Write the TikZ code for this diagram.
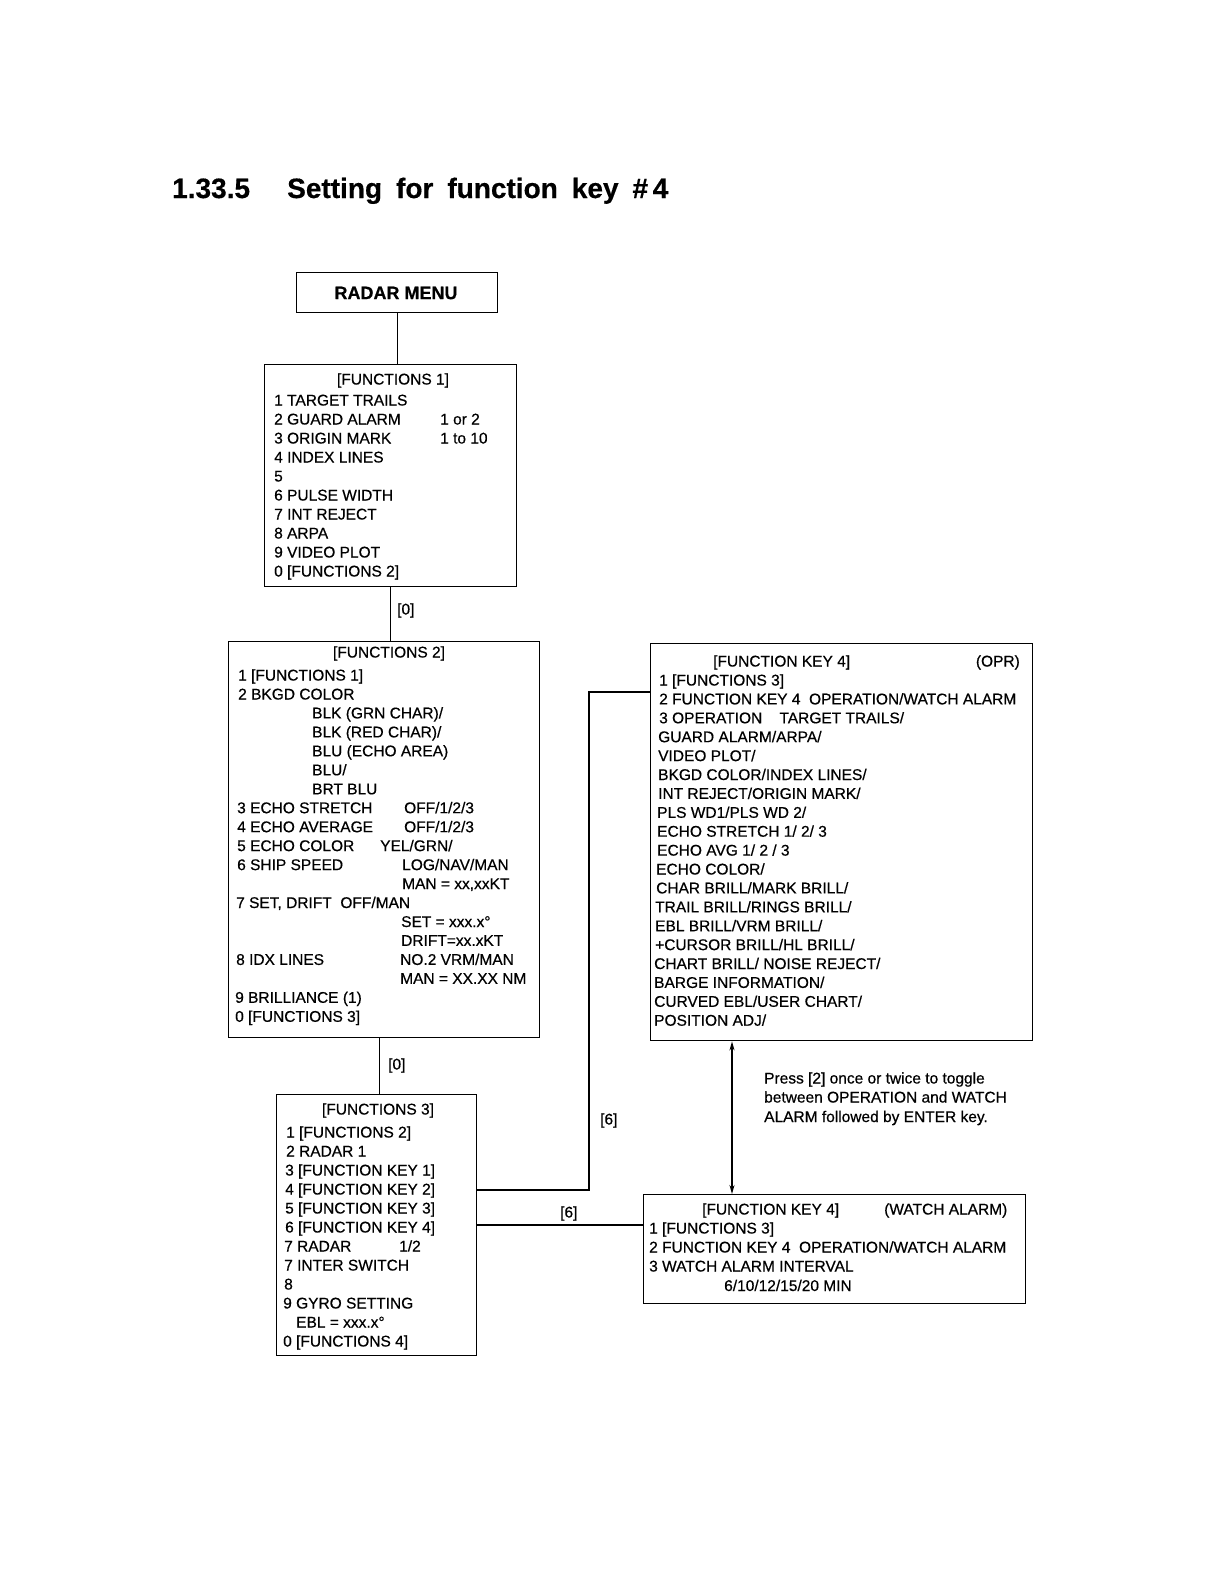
\documentclass[tikz,border=0pt]{standalone}
\usepackage{fontspec}
\setmainfont{Liberation Sans}[FakeBold=0.5]
\newfontfamily\reg{Liberation Sans}[FakeBold=0.5]
\usetikzlibrary{arrows.meta}
\tikzset{
  box/.style={draw, line width=1.4pt, rectangle, inner sep=0pt, anchor=north west},
  t/.style={anchor=base west, inner sep=0pt, font=\fontsize{15.5}{18}\selectfont},
  tc/.style={anchor=base, inner sep=0pt, font=\fontsize{15.5}{18}\selectfont},
  conn/.style={line width=1.4pt},
  ttl/.style={anchor=base west, inner sep=0pt, font=\bfseries\fontsize{28}{32}\selectfont},
}
\newcommand{\wsp}{\hspace{14pt}}
\begin{document}
\begin{tikzpicture}[x=1pt,y=-1pt]
\useasboundingbox (0,0) rectangle (1224,1584);
% title
\node[ttl] (tnum) at (172,198) {1.33.5};
\node[ttl] (ttext) at (287,198) {Setting\wsp for\wsp function\wsp key\wsp\#\,4};
% boxes
\node[box, minimum width=201pt, minimum height=40pt] (rm) at (296,272) {};
\node[anchor=center, inner sep=0pt, font=\bfseries\fontsize{18}{20}\selectfont] (rmt) at (396,293) {RADAR MENU};
\node[box, minimum width=252pt, minimum height=222pt] (f1) at (264,364) {};
\node[box, minimum width=311pt, minimum height=396pt] (f2) at (228,641) {};
\node[box, minimum width=200pt, minimum height=261pt] (f3) at (276,1094) {};
\node[box, minimum width=382pt, minimum height=397pt] (k4) at (650,643) {};
\node[box, minimum width=382pt, minimum height=109pt] (wa) at (643,1194) {};
% connectors
\draw[conn] (rm.south) -- (rm.south |- f1.north);
\draw[conn] (f1.south) -- (f1.south |- f2.north);
\draw[conn] (f3.north |- f2.south) ++(3,0) coordinate (c23) -- (c23 |- f3.north);
\coordinate (u1) at (589,1190);
\coordinate (u2) at (589,692);
\draw[conn] (f3.east |- u1) -- (u1) -- (u2) -- (u2 -| k4.west);
\coordinate (l1) at (560,1225);
\draw[conn] (f3.east |- l1) -- (l1 -| wa.west);
\coordinate (da) at (732,0);
\draw[conn, {Stealth[length=9pt,width=5pt]}-{Stealth[length=9pt,width=5pt]}] (da |- k4.south) -- (da |- wa.north);
% connector labels
\node[t] (lab0a) at (397,614.5) {[0]};
\node[t] (lab0b) at (388,1069.5) {[0]};
\node[t] (lab6a) at (600,1124.5) {[6]};
\node[t] (lab6b) at (560,1217.5) {[6]};
% FUNCTIONS 1
\node[tc] (f1t) at (393,384.5) {[FUNCTIONS 1]};
\node[t] (f1a) at (274,405.5) {1 TARGET TRAILS};
\node[t] (f1b) at (274,424.5) {2 GUARD ALARM};
\node[t] (f1bb) at (440,424.5) {1 or 2};
\node[t] (f1c) at (274,443.5) {3 ORIGIN MARK};
\node[t] (f1cc) at (440,443.5) {1 to 10};
\node[t] (f1d) at (274,462.5) {4 INDEX LINES};
\node[t] (f1e) at (274,481.5) {5};
\node[t] (f1f) at (274,500.5) {6 PULSE WIDTH};
\node[t] (f1g) at (274,519.5) {7 INT REJECT};
\node[t] (f1h) at (274,538.5) {8 ARPA};
\node[t] (f1i) at (274,557.5) {9 VIDEO PLOT};
\node[t] (f1j) at (274,576.5) {0 [FUNCTIONS 2]};
% FUNCTIONS 2
\node[tc] (f2t) at (389,657.5) {[FUNCTIONS 2]};
\node[t] (f2a) at (238,680.5) {1 [FUNCTIONS 1]};
\node[t] (f2b) at (238,699.5) {2 BKGD COLOR};
\node[t] (f2c) at (312,718.4) {BLK (GRN CHAR)/};
\node[t] (f2d) at (312,737.4) {BLK (RED CHAR)/};
\node[t] (f2e) at (312,756.3) {BLU (ECHO AREA)};
\node[t] (f2f) at (312,775.3) {BLU/};
\node[t] (f2g) at (312,794.3) {BRT BLU};
\node[t] (f2h) at (237,813.2) {3 ECHO STRETCH};
\node[t] (f2hh) at (404,813.2) {OFF/1/2/3};
\node[t] (f2i) at (237,832.2) {4 ECHO AVERAGE};
\node[t] (f2ii) at (404,832.2) {OFF/1/2/3};
\node[t] (f2j) at (237,851.1) {5 ECHO COLOR};
\node[t] (f2jj) at (380,851.1) {YEL/GRN/};
\node[t] (f2k) at (237,870.1) {6 SHIP SPEED};
\node[t] (f2kk) at (402,870.1) {LOG/NAV/MAN};
\node[t] (f2l) at (402,889.0) {MAN = xx,xxKT};
\node[t] (f2m) at (236,908.0) {7 SET, DRIFT\ \ OFF/MAN};
\node[t] (f2n) at (401,927.0) {SET = xxx.x°};
\node[t] (f2o) at (401,945.9) {DRIFT=xx.xKT};
\node[t] (f2p) at (236,964.9) {8 IDX LINES};
\node[t] (f2pp) at (400,964.9) {NO.2 VRM/MAN};
\node[t] (f2q) at (400,983.8) {MAN = XX.XX NM};
\node[t] (f2r) at (235,1002.8) {9 BRILLIANCE (1)};
\node[t] (f2s) at (235,1021.8) {0 [FUNCTIONS 3]};
% FUNCTIONS 3
\node[tc] (f3t) at (378,1114.5) {[FUNCTIONS 3]};
\node[t] (f3a) at (286,1137.5) {1 [FUNCTIONS 2]};
\node[t] (f3b) at (286,1156.5) {2 RADAR 1};
\node[t] (f3c) at (285,1175.5) {3 [FUNCTION KEY 1]};
\node[t] (f3d) at (285,1194.5) {4 [FUNCTION KEY 2]};
\node[t] (f3e) at (285,1213.5) {5 [FUNCTION KEY 3]};
\node[t] (f3f) at (285,1232.5) {6 [FUNCTION KEY 4]};
\node[t] (f3g) at (284,1251.5) {7 RADAR};
\node[t] (f3gg) at (399,1251.5) {1/2};
\node[t] (f3h) at (284,1270.5) {7 INTER SWITCH};
\node[t] (f3i) at (284,1289.5) {8};
\node[t] (f3j) at (283,1308.5) {9 GYRO SETTING};
\node[t] (f3k) at (296,1327.5) {EBL = xxx.x°};
\node[t] (f3l) at (283,1346.5) {0 [FUNCTIONS 4]};
% FUNCTION KEY 4 (OPR)
\node[t] (k4t) at (713,666.5) {[FUNCTION KEY 4]};
\node[anchor=base east, inner sep=0pt, font=\fontsize{15.5}{18}\selectfont] (k4o) at (1020,666.5) {(OPR)};
\node[t] (k4a) at (659,685.5) {1 [FUNCTIONS 3]};
\node[t] (k4b) at (659,704.4) {2 FUNCTION KEY 4\ \ OPERATION/WATCH ALARM};
\node[t] (k4c) at (659,723.3) {3 OPERATION\ \ \ \ TARGET TRAILS/};
\node[t] (k4d) at (658,742.2) {GUARD ALARM/ARPA/};
\node[t] (k4e) at (658,761.1) {VIDEO PLOT/};
\node[t] (k4f) at (658,780.0) {BKGD COLOR/INDEX LINES/};
\node[t] (k4g) at (658,798.9) {INT REJECT/ORIGIN MARK/};
\node[t] (k4h) at (657,817.8) {PLS WD1/PLS WD 2/};
\node[t] (k4i) at (657,836.7) {ECHO STRETCH 1/ 2/ 3};
\node[t] (k4j) at (657,855.6) {ECHO AVG 1/ 2 / 3};
\node[t] (k4k) at (656,874.5) {ECHO COLOR/};
\node[t] (k4l) at (656,893.4) {CHAR BRILL/MARK BRILL/};
\node[t] (k4m) at (655,912.3) {TRAIL BRILL/RINGS BRILL/};
\node[t] (k4n) at (655,931.2) {EBL BRILL/VRM BRILL/};
\node[t] (k4o2) at (655,950.1) {+CURSOR BRILL/HL BRILL/};
\node[t] (k4p) at (654,969.0) {CHART BRILL/ NOISE REJECT/};
\node[t] (k4q) at (654,987.9) {BARGE INFORMATION/};
\node[t] (k4r) at (654,1006.8) {CURVED EBL/USER CHART/};
\node[t] (k4s) at (654,1025.7) {POSITION ADJ/};
% note
\node[t] (n1) at (764,1083.5) {Press [2] once or twice to toggle};
\node[t] (n2) at (764,1102.5) {between OPERATION and WATCH};
\node[t] (n3) at (764,1122.0) {ALARM followed by ENTER key.};
% FUNCTION KEY 4 (WATCH ALARM)
\node[t] (wat) at (702,1214.5) {[FUNCTION KEY 4]};
\node[t] (wao) at (884,1214.5) {(WATCH ALARM)};
\node[t] (waa) at (649,1233.5) {1 [FUNCTIONS 3]};
\node[t] (wab) at (649,1252.5) {2 FUNCTION KEY 4\ \ OPERATION/WATCH ALARM};
\node[t] (wac) at (649,1271.5) {3 WATCH ALARM INTERVAL};
\node[t] (wad) at (724,1291.0) {6/10/12/15/20 MIN};
\end{tikzpicture}
\end{document}
